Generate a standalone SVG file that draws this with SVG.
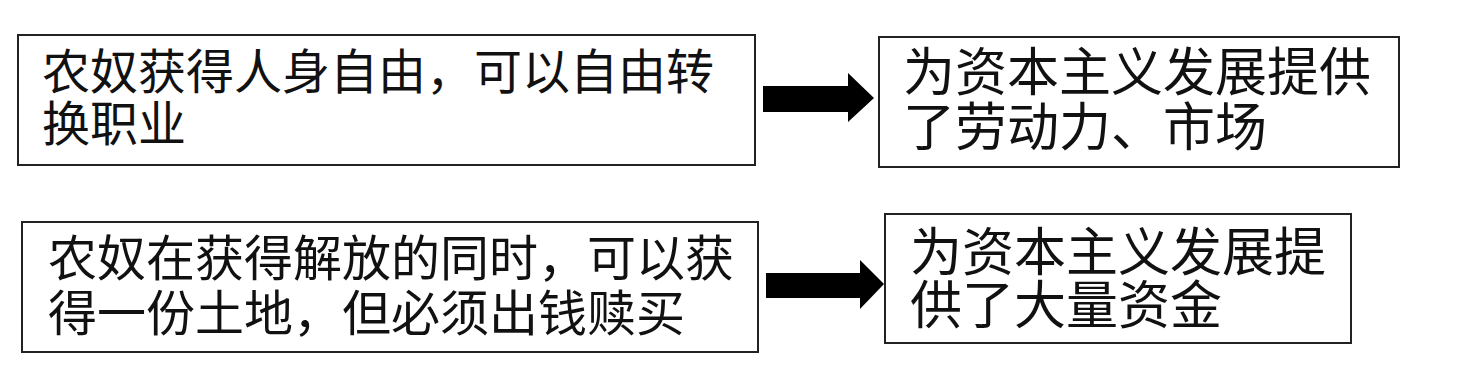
<svg xmlns="http://www.w3.org/2000/svg" width="1468" height="388" viewBox="0 0 1468 388">
<style>
.box{fill:#fff;stroke:#222;stroke-width:2}
.t{font-family:"Noto Sans CJK SC","Noto Sans CJK TC",sans-serif;fill:#111}
.arr{fill:#000}
</style>
<rect width="1468" height="388" fill="#fff"/>
<g id="node1">
<rect class="box" x="18" y="35" width="737" height="130"/>
<text class="t" font-size="48"><tspan x="42" y="89">农奴获得人身自由，可以自由转</tspan><tspan x="42" y="141">换职业</tspan></text>
</g>
<g id="node2">
<rect class="box" x="879" y="37" width="520" height="130"/>
<text class="t" font-size="52"><tspan x="903" y="91">为资本主义发展提供</tspan><tspan x="903" y="146">了劳动力、市场</tspan></text>
</g>
<g id="node3">
<rect class="box" x="22" y="222" width="736" height="130"/>
<text class="t" font-size="49"><tspan x="48" y="276">农奴在获得解放的同时，可以获</tspan><tspan x="48" y="331">得一份土地，但必须出钱赎买</tspan></text>
</g>
<g id="node4">
<rect class="box" x="885" y="214" width="466" height="129"/>
<text class="t" font-size="52"><tspan x="910" y="271">为资本主义发展提</tspan><tspan x="910" y="324">供了大量资金</tspan></text>
</g>
<g id="connectors">
<polygon class="arr" points="763,86 848,86 848,73 874,98 848,122 848,112 763,112"/>
<polygon class="arr" points="766,273 860,273 860,260 884,284 860,309 860,298 766,298"/>
</g>
</svg>
